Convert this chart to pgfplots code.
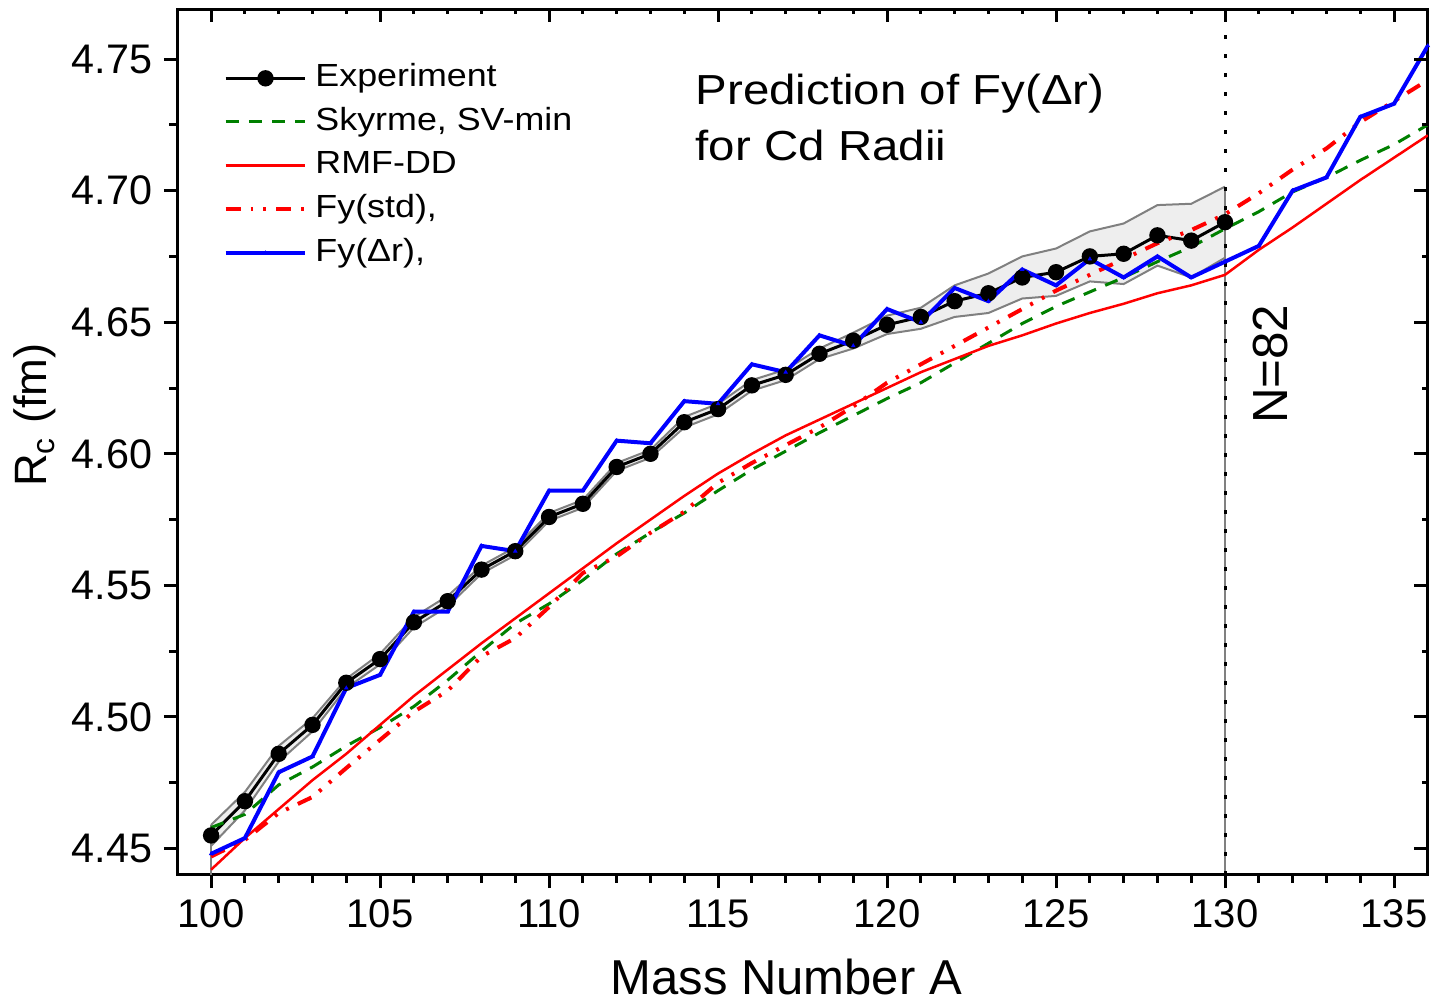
\documentclass[border=0pt]{standalone}
\usepackage{pgfplots}
\pgfplotsset{compat=1.18}
\usepackage{pgfplotstable}
\usepgfplotslibrary{fillbetween}
\usepackage{fontspec}
\setmainfont{Liberation Sans}

\definecolor{sgreen}{RGB}{0,128,0}
\definecolor{bandfill}{RGB}{238,238,238}
\definecolor{bandline}{RGB}{128,128,128}
\newcommand{\sx}[1]{\scalebox{1.12}[1]{#1}}
\newcommand{\tx}[1]{\scalebox{1.13}[1]{#1}}

\pgfplotstableread{
A exp lo hi
100 4.455 4.451 4.459
101 4.468 4.4645 4.4715
102 4.486 4.483 4.489
103 4.497 4.4945 4.4995
104 4.513 4.511 4.5145
105 4.522 4.520 4.524
106 4.536 4.534 4.538
107 4.544 4.542 4.546
108 4.556 4.5545 4.5575
109 4.563 4.5615 4.5645
110 4.576 4.5745 4.5775
111 4.581 4.5795 4.5825
112 4.595 4.5935 4.5965
113 4.600 4.5985 4.6015
114 4.612 4.610 4.614
115 4.617 4.615 4.619
116 4.626 4.624 4.628
117 4.630 4.628 4.632
118 4.638 4.636 4.640
119 4.643 4.640 4.646
120 4.649 4.6455 4.6525
121 4.652 4.6475 4.6555
122 4.658 4.652 4.664
123 4.661 4.6535 4.6685
124 4.667 4.659 4.675
125 4.669 4.660 4.678
126 4.675 4.6655 4.6845
127 4.676 4.6645 4.6875
128 4.683 4.6715 4.6945
129 4.681 4.667 4.695
130 4.688 4.6745 4.7015
}\expdata

\pgfplotstableread{
A sv rmf fystd fydr
100 4.458 4.442 4.447 4.448
101 4.463 4.454 4.4533 4.454
102 4.4742 4.465 4.4635 4.479
103 4.481 4.476 4.4696 4.485
104 4.489 4.486 4.4806 4.511
105 4.496 4.497 4.4913 4.516
106 4.504 4.508 4.502 4.540
107 4.514 4.518 4.510 4.540
108 4.525 4.528 4.523 4.565
109 4.5355 4.5375 4.530 4.563
110 4.543 4.547 4.5418 4.586
111 4.552 4.5565 4.5547 4.586
112 4.562 4.566 4.561 4.605
113 4.570 4.575 4.570 4.604
114 4.5775 4.584 4.578 4.620
115 4.586 4.5925 4.589 4.619
116 4.594 4.600 4.5965 4.634
117 4.601 4.607 4.6033 4.631
118 4.608 4.613 4.610 4.645
119 4.6145 4.619 4.618 4.641
120 4.621 4.625 4.627 4.655
121 4.627 4.631 4.634 4.650
122 4.6345 4.636 4.641 4.663
123 4.642 4.641 4.648 4.658
124 4.6495 4.645 4.655 4.670
125 4.656 4.6495 4.662 4.664
126 4.6615 4.6535 4.668 4.674
127 4.667 4.657 4.674 4.667
128 4.673 4.661 4.680 4.675
129 4.6786 4.664 4.685 4.667
130 4.6855 4.668 4.691 4.673
131 4.692 4.6775 4.699 4.679
132 4.6995 4.686 4.708 4.700
133 4.705 4.695 4.716 4.705
134 4.7115 4.704 4.726 4.728
135 4.7175 4.7125 4.734 4.733
136 4.725 4.721 4.742 4.755
}\theory

\begin{document}
\begin{tikzpicture}
\pgfplotsset{
  commonax/.style={
    scale only axis, width=375.2pt, height=259.8pt,
    xmin=99, xmax=136, ymin=4.44, ymax=4.769,
    xtick={100,105,110,115,120,125,130,135}, minor x tick num=4,
    ytick={4.45,4.5,4.55,4.6,4.65,4.7,4.75}, minor y tick num=1,
  }
}
\begin{axis}[
  commonax,
  tick pos=left, tick align=outside,
  major tick length=4pt, minor tick length=2.4pt,
  every tick/.style={black, line width=0.9pt},
  axis line style={line width=0.9pt},
  yticklabel style={/pgf/number format/fixed, /pgf/number format/fixed zerofill, /pgf/number format/precision=2, font=\fontsize{12.4}{14}\selectfont},
  xticklabel style={font=\fontsize{12}{14}\selectfont},
  tick label style={/pgf/number format/assume math mode=true},
  xlabel={Mass Number A},
  xlabel style={font=\fontsize{14.7}{16}\selectfont, at={(axis description cs:0.487,-0.118)}, anchor=center},
  ylabel={R\textsubscript{c} (fm)},
  ylabel style={font=\fontsize{13.6}{15}\selectfont, at={(axis description cs:-0.1137,0.531)}, anchor=center},
  legend style={at={(axis description cs:0.0364,0.9446)}, anchor=north west, draw=none, fill=none,
    font=\fontsize{9.6}{11}\selectfont, row sep=0.7pt, column sep=0.9pt, inner sep=0pt,
    nodes={inner sep=1.5pt, text height=7.2pt, text depth=2.2pt, anchor=west}},
  legend cell align=left,
  legend image code/.code={\draw[mark repeat=2, mark phase=2, #1] plot coordinates {(0pt,0pt) (12pt,0pt) (24pt,0pt)};},
]
\coordinate (SW) at (rel axis cs:0,0);
\coordinate (NE) at (rel axis cs:1,1);

% uncertainty band
\addplot[name path=up, draw=bandline, line width=0.6pt, forget plot] table[x=A, y=hi] {\expdata};
\addplot[name path=lo, draw=bandline, line width=0.6pt, forget plot] table[x=A, y=lo] {\expdata};
\addplot[bandfill, forget plot] fill between[of=up and lo];
\addplot[draw=bandline, line width=0.6pt, forget plot] coordinates {(100,4.44) (100,4.459)};
\addplot[draw=bandline, line width=0.6pt, forget plot] coordinates {(130,4.44) (130,4.7015)};
\addplot[black, line width=0.9pt, dash pattern=on 1.2pt off 4.5pt, forget plot] coordinates {(130,4.44) (130,4.769)};

\addplot[black, line width=0.9pt, mark=*, mark size=2pt] table[x=A, y=exp] {\expdata};
\addlegendentry{\sx{Experiment}}
\addplot[sgreen, line width=0.9pt, dash pattern=on 4pt off 3pt] table[x=A, y=sv] {\theory};
\addlegendentry{\sx{Skyrme, SV-min}}
\addplot[red, line width=0.75pt] table[x=A, y=rmf] {\theory};
\addlegendentry{\sx{RMF-DD}}
\addplot[red, line width=1.2pt, dash pattern=on 4.5pt off 3pt on 0.9pt off 3pt on 0.9pt off 3pt] table[x=A, y=fystd] {\theory};
\addlegendentry{\sx{Fy(std),}}
\addplot[blue, line width=1.2pt, mark=triangle*, mark size=0.6pt, mark options={line width=0.2pt}] table[x=A, y=fydr] {\theory};
\addlegendentry{\sx{Fy(Δr),}}

\node[anchor=north west, align=left, inner sep=0pt, font=\fontsize{12.6}{16.9}\selectfont] at (axis cs:114.32,4.7446) {\tx{Prediction of Fy(Δr)}\\\tx{for Cd Radii}};
\node[rotate=90, inner sep=0pt, font=\fontsize{14.8}{16}\selectfont] at (axis cs:131.36,4.634) {N=82};
\end{axis}
\begin{axis}[
  commonax,
  tick pos=right, tick align=inside,
  major tick length=4pt, minor tick length=1.6pt,
  every tick/.style={black, line width=0.9pt},
  axis line style={draw=none},
  xticklabels={}, yticklabels={},
]
\end{axis}
\pgfresetboundingbox
\path[use as bounding box] ([shift={(-53.2pt,-39pt)}]SW) rectangle ([shift={(1.56pt,2.7pt)}]NE);
\end{tikzpicture}
\end{document}
